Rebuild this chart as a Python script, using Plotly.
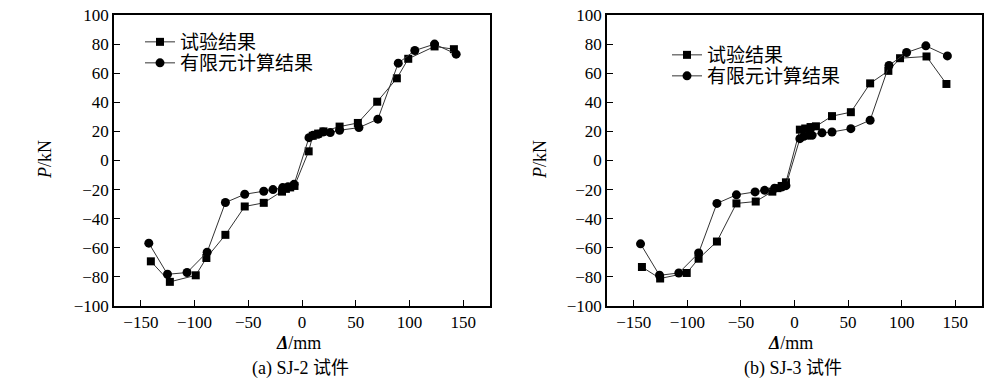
import plotly.graph_objects as go

# ---- data ----
# SJ-2
sj2_test_x = [-140.7, -123, -98.9, -89, -71.3, -53.3, -35.6, -18.6, -15, -11, -7,
              6.2, 10, 15, 20, 35, 52, 70, 88.3, 98.9, 123.4, 141.4]
sj2_test_y = [-69.3, -83.4, -78.9, -67, -51.1, -31.6, -29.1, -21.4, -19.5, -18.5, -17.5,
              6.3, 17, 18.5, 20, 23.3, 25.8, 40.4, 56.5, 69.9, 78.4, 76.5]
sj2_fem_x = [-142.6, -125.2, -107, -88.3, -71.3, -53.3, -35.6, -27, -18, -13, -7.4,
             6.5, 10.2, 14.9, 19.5, 26.3, 35, 53, 70.6, 89.6, 105, 123.4, 143.5]
sj2_fem_y = [-56.8, -78.2, -77, -63, -28.9, -23.2, -21.1, -20, -18.6, -18, -16.4,
             15.7, 17.3, 18, 19.6, 19.2, 20.8, 22.6, 28.4, 66.9, 75.6, 80, 73.1]
# SJ-3
sj3_test_x = [-142.4, -125.4, -100.6, -89.5, -72.4, -54.2, -36.2, -20.7, -16, -12, -8,
              5, 10, 15, 20, 35, 52.6, 70.6, 87.6, 98.5, 123.2, 141.8]
sj3_test_y = [-73.2, -81.1, -77.3, -67.5, -55.7, -29.5, -28.2, -21.4, -19, -17.5, -15,
              21.2, 22, 23, 23.5, 30.5, 33.2, 53, 61.6, 70.3, 71.5, 52.6]
sj3_fem_x = [-143.7, -126, -108, -89.5, -72.4, -54.2, -36.8, -27.9, -18.6, -12, -8,
             5, 8.7, 13.3, 16.4, 25.7, 35, 52.6, 70.6, 88.2, 104.6, 122.6, 142.7]
sj3_fem_y = [-57.3, -78.9, -77.3, -63.6, -29.5, -23.6, -21.6, -20.5, -19.1, -18.2, -17.3,
             15, 16.6, 17.3, 17.3, 19, 19.6, 21.9, 27.7, 65.3, 74.2, 78.8, 71.9]

x_ticks = [-150, -100, -50, 0, 50, 100, 150]
y_ticks = [-100, -80, -60, -40, -20, 0, 20, 40, 60, 80, 100]
legend_names = ["试验结果", "有限元计算结果"]
captions = ["(a) SJ-2 <span style='font-family:Noto Sans CJK SC'>试件</span>",
            "(b) SJ-3 <span style='font-family:Noto Sans CJK SC'>试件</span>"]

def fmt(v):
    return ("\u2212" + str(-v)) if v < 0 else str(v)

W, H = 1000, 382
serif = "Times New Roman, Liberation Serif, serif"
cjk = "Noto Sans CJK SC"
line_col = "#333333"

fig = go.Figure()

panels = [
    (sj2_test_x, sj2_test_y, sj2_fem_x, sj2_fem_y, "x", "y", "legend", "legend2"),
    (sj3_test_x, sj3_test_y, sj3_fem_x, sj3_fem_y, "x2", "y2", "legend3", "legend4"),
]
for tx, ty, fx, fy, xa, ya, lg1, lg2 in panels:
    fig.add_trace(go.Scatter(x=tx, y=ty, mode="lines+markers", name=legend_names[0],
                             xaxis=xa, yaxis=ya, legend=lg1, showlegend=True,
                             line=dict(color=line_col, width=1),
                             marker=dict(symbol="square", size=8, color="black")))
    fig.add_trace(go.Scatter(x=fx, y=fy, mode="lines+markers", name=legend_names[1],
                             xaxis=xa, yaxis=ya, legend=lg2, showlegend=True,
                             line=dict(color=line_col, width=1),
                             marker=dict(symbol="circle", size=9, color="black")))

y0, y1 = 1 - 306 / H, 1 - 15 / H
doms = [(114 / W, 490 / W), (607 / W, 982 / W)]

axis_common = dict(showgrid=False, zeroline=False, showline=True, linecolor="black",
                   linewidth=1.5, mirror=True, ticks="inside", ticklen=6,
                   tickcolor="black", tickwidth=1, automargin=False,
                   tickfont=dict(family=serif, size=17, color="black"))

def leg(xpx, ypx):
    return dict(x=xpx / W, y=1 - ypx / H, xanchor="left", yanchor="middle",
                font=dict(family=cjk, size=19, color="black"),
                bgcolor="rgba(0,0,0,0)", itemwidth=30)

fig.update_layout(
    width=W, height=H, margin=dict(l=0, r=0, t=0, b=0, autoexpand=False),
    paper_bgcolor="white", plot_bgcolor="white", showlegend=True,
    font=dict(family=serif, color="black"),
    xaxis=dict(domain=doms[0], range=[-175, 175], anchor="y",
               tickvals=x_ticks, ticktext=[fmt(v) for v in x_ticks], **axis_common),
    yaxis=dict(domain=[y0, y1], range=[-100, 100], anchor="x",
               tickvals=y_ticks, ticktext=[fmt(v) for v in y_ticks], **axis_common),
    xaxis2=dict(domain=doms[1], range=[-175, 175], anchor="y2",
                tickvals=x_ticks, ticktext=[fmt(v) for v in x_ticks], **axis_common),
    yaxis2=dict(domain=[y0, y1], range=[-100, 100], anchor="x2",
                tickvals=y_ticks, ticktext=[fmt(v) for v in y_ticks], **axis_common),
    legend=leg(140, 42),
    legend2=leg(140, 63),
    legend3=leg(667, 55),
    legend4=leg(667, 76),
)

for i, (d0, d1) in enumerate(doms):
    cx = (d0 + d1) / 2
    fig.add_annotation(text="<i>P</i>/kN", xref="paper", yref="paper",
                       x=(45 if i == 0 else 540) / W, y=1 - 160 / H, showarrow=False,
                       xanchor="center", yanchor="middle",
                       textangle=-90, font=dict(family=serif, size=18, color="black"))
    fig.add_annotation(text="<b><i>Δ</i></b>/mm", xref="paper", yref="paper",
                       x=cx - 4 / W, y=1 - 343 / H, showarrow=False,
                       xanchor="center", yanchor="middle",
                       font=dict(family=serif, size=18, color="black"))
    fig.add_annotation(text=captions[i], xref="paper", yref="paper",
                       x=cx - 2 / W, y=1 - 366 / H, showarrow=False,
                       xanchor="center", yanchor="middle",
                       font=dict(family=serif, size=18, color="black"))

fig.write_html("out.html", config={"displayModeBar": False},
               post_script="document.body.style.margin='0';document.body.style.overflow='hidden';")
